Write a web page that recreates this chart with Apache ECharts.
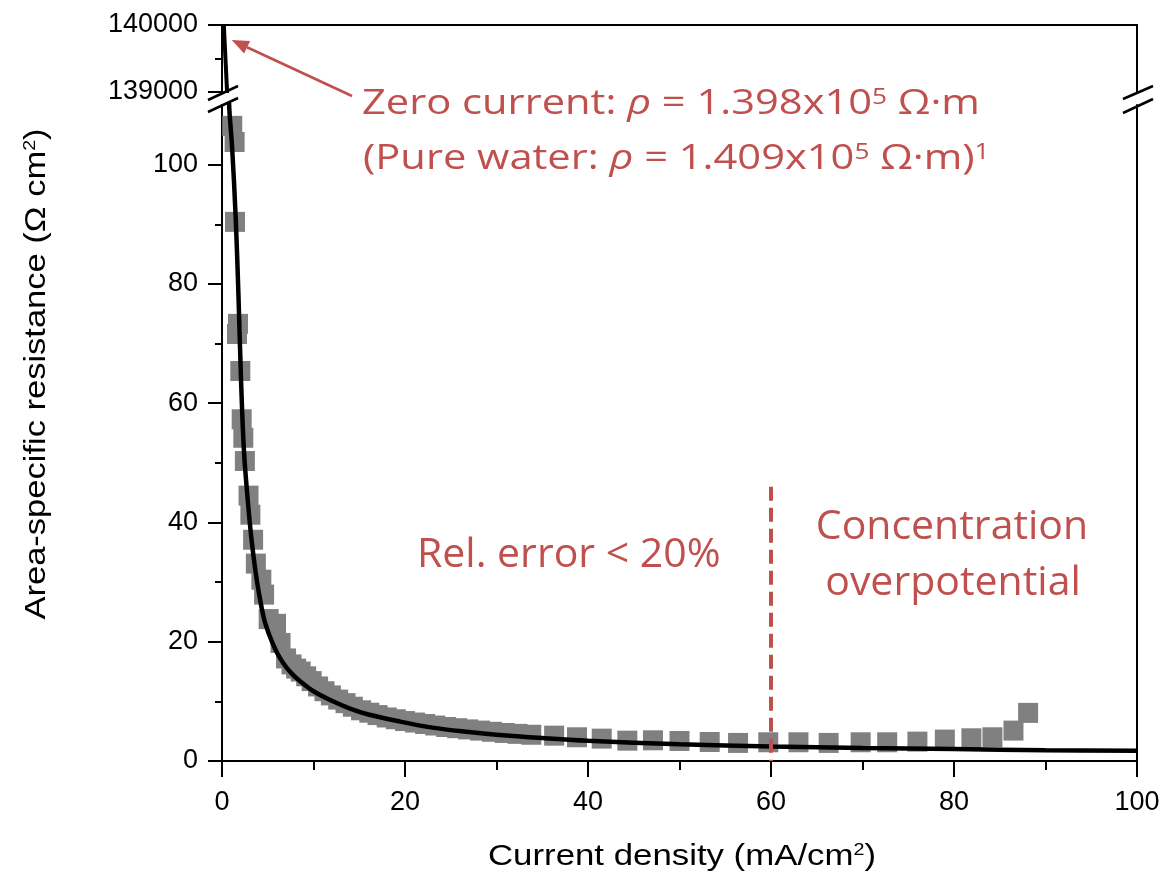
<!DOCTYPE html>
<html>
<head>
<meta charset="utf-8">
<title>Area-specific resistance</title>
<script src="https://cdn.jsdelivr.net/npm/echarts@6/dist/echarts.min.js"></script>
<style>
  html, body { margin: 0; padding: 0; background: #fff; }
  #chart { width: 1163px; height: 880px; }
</style>
</head>
<body>
<div id="chart"></div>
<script>
// measured squares (current density mA/cm2, ASR ohm cm2)
var sqX = [1.12, 1.38, 1.42, 1.64, 1.75, 2.0, 2.15, 2.33, 2.5, 2.9, 3.1, 3.4, 3.7, 4.3, 4.6, 5.1, 5.9, 6.4, 7.0,
  7.6, 8.1, 8.6, 9.2, 9.8, 10.5, 11.2, 11.9, 12.7, 13.5, 14.3, 15.2, 16.1, 17.0, 18.0, 19.0, 20.0, 21.1, 22.2, 23.3,
  24.5, 25.7, 26.9, 28.2, 29.5, 30.9, 32.3, 33.8,
  36.3, 38.8, 41.5, 44.3, 47.1, 50.0, 53.3, 56.4, 59.7, 63.0, 66.3, 69.8, 72.7, 76.0, 79.0, 81.9, 84.2, 86.5, 88.1];
var sqY = [106.5, 103.8, 90.4, 71.6, 73.3, 65.4, 57.3, 54.2, 50.3, 44.5, 41.3, 37.1, 33.1, 30.4, 27.9, 23.8, 23.0, 19.8, 17.2,
  16.2, 15.5, 15.0, 14.2, 13.4, 12.5, 11.7, 11.0, 10.3, 9.7, 9.1, 8.5, 8.1, 7.7, 7.3, 7.0, 6.7, 6.45, 6.2, 5.95,
  5.7, 5.5, 5.3, 5.1, 4.9, 4.7, 4.55, 4.4,
  4.25, 3.98, 3.75, 3.41, 3.47, 3.36, 3.19, 3.03, 3.14, 3.14, 3.03, 3.14, 3.14, 3.25, 3.59, 3.81, 3.98, 5.10, 8.07];

// fitted curve
var fitX = [0.7, 0.78, 1.1, 1.5, 1.8, 2.1, 2.4, 2.8, 3.2, 3.6, 4.0, 4.6, 5.2, 5.9, 6.7, 7.6, 8.6, 10, 12, 14, 16, 19.2, 23, 27, 30, 35, 40, 50, 60, 70, 80, 90, 100];
var fitY = [118, 110, 103, 91, 78, 63, 52, 44, 37.5, 32.5, 28.5, 23.8, 21.0, 18.5, 16.4, 14.7, 13.3, 11.7, 10.1, 8.8, 7.8, 6.7, 5.6, 4.85, 4.4, 3.85, 3.4, 2.8, 2.45, 2.2, 2.0, 1.82, 1.7];

// fit curve above the axis break
var topFitX = [0.2, 0.56];
var topFitY = [140000, 138980];

var yMajor = [0, 20, 40, 60, 80, 100];
var yMinor = [10, 30, 50, 70, 90];
var topMajor = [139000, 140000];
var topMinor = [139500];
var cutX = 60, cutTop = 46;

var RED = '#C0504D';
var AXF = 'Liberation Sans';
var TXF = 'Open Sans';

function pairs(xs, ys) {
  var out = [];
  for (var i = 0; i < xs.length; i++) out.push([xs[i], ys[i]]);
  return out;
}

var chart = echarts.init(document.getElementById('chart'));

var axisLine = { show: true, lineStyle: { color: '#000', width: 2 } };
var tickStyle = { color: '#000', width: 2 };
var labelStyle = { color: '#000', fontFamily: AXF, fontSize: 27, formatter: function (v) { return String(v); } };

var option = {
  animation: false,
  backgroundColor: '#fff',
  grid: [
    { left: 222, right: 26, top: 25, height: 68 },
    { left: 222, right: 26, top: 105, height: 656 }
  ],
  xAxis: [
    { gridIndex: 0, type: 'value', position: 'top', min: 0, max: 100,
      axisLine: axisLine, axisTick: { show: false }, axisLabel: { show: false }, splitLine: { show: false } },
    { gridIndex: 1, type: 'value', position: 'bottom', min: 0, max: 100, interval: 20,
      axisLine: axisLine,
      axisTick: { show: true, length: 16, lineStyle: tickStyle },
      minorTick: { show: true, splitNumber: 2, length: 9, lineStyle: tickStyle },
      axisLabel: Object.assign({ margin: 28 }, labelStyle),
      splitLine: { show: false } }
  ],
  yAxis: [
    { gridIndex: 0, type: 'value', position: 'left', min: 138980, max: 140000,
      axisLine: axisLine,
      axisTick: { show: true, length: 14, customValues: topMajor, lineStyle: tickStyle },
      axisLabel: Object.assign({ margin: 24, customValues: topMajor }, labelStyle),
      splitLine: { show: false } },
    { gridIndex: 0, type: 'value', position: 'left', min: 138980, max: 140000,
      axisLine: { show: false },
      axisTick: { show: true, length: 7, customValues: topMinor, lineStyle: tickStyle },
      axisLabel: { show: false }, splitLine: { show: false } },
    { gridIndex: 0, type: 'value', position: 'right', min: 138980, max: 140000,
      axisLine: axisLine, axisTick: { show: false }, axisLabel: { show: false }, splitLine: { show: false } },
    { gridIndex: 1, type: 'value', position: 'left', min: 0, max: 110,
      axisLine: axisLine,
      axisTick: { show: true, length: 14, customValues: yMajor, lineStyle: tickStyle },
      axisLabel: Object.assign({ margin: 24, customValues: yMajor }, labelStyle),
      splitLine: { show: false } },
    { gridIndex: 1, type: 'value', position: 'left', min: 0, max: 110,
      axisLine: { show: false },
      axisTick: { show: true, length: 7, customValues: yMinor, lineStyle: tickStyle },
      axisLabel: { show: false }, splitLine: { show: false } },
    { gridIndex: 1, type: 'value', position: 'right', min: 0, max: 110,
      axisLine: axisLine, axisTick: { show: false }, axisLabel: { show: false }, splitLine: { show: false } }
  ],
  series: [
    {
      type: 'scatter', xAxisIndex: 1, yAxisIndex: 3, z: 2,
      symbol: 'rect', symbolSize: 20,
      itemStyle: { color: 'rgb(128,128,128)', opacity: 1 },
      data: pairs(sqX, sqY)
    },
    {
      type: 'line', xAxisIndex: 1, yAxisIndex: 3, z: 3,
      smooth: 0.35, showSymbol: false, symbol: 'none',
      lineStyle: { color: '#000', width: 4.5 },
      data: pairs(fitX, fitY),
      markLine: {
        silent: true, symbol: ['none', 'none'], z: 5,
        label: { show: false },
        lineStyle: { color: RED, width: 4, type: [14, 7] },
        data: [[{ coord: [cutX, cutTop] }, { coord: [cutX, 0] }]]
      }
    },
    {
      type: 'line', xAxisIndex: 0, yAxisIndex: 0, z: 3,
      showSymbol: false, symbol: 'none',
      lineStyle: { color: '#000', width: 4 },
      data: pairs(topFitX, topFitY)
    }
  ],
  graphic: [
    // axis break marks
    { type: 'line', shape: { x1: 208, y1: 100, x2: 238, y2: 86 }, style: { stroke: '#000', lineWidth: 2.5 } },
    { type: 'line', shape: { x1: 208, y1: 112, x2: 238, y2: 98 }, style: { stroke: '#000', lineWidth: 2.5 } },
    { type: 'line', shape: { x1: 1123, y1: 99, x2: 1153, y2: 86 }, style: { stroke: '#000', lineWidth: 2.5 } },
    { type: 'line', shape: { x1: 1123, y1: 113, x2: 1153, y2: 99 }, style: { stroke: '#000', lineWidth: 2.5 } },
    // arrow
    { type: 'line', shape: { x1: 352, y1: 96, x2: 247, y2: 47.3 }, style: { stroke: RED, lineWidth: 2.6 } },
    { type: 'polygon', shape: { points: [[231.7, 40], [250.1, 41.0], [244.1, 53.6]] }, style: { fill: RED } },
    // annotations
    { type: 'text', x: 362, y: 104, scaleX: 1.19, style: {
        text: '{a|Zero current: }{i|ρ}{a| = 1.398x10}{s|5}{a| Ω·m}',
        verticalAlign: 'middle', align: 'left',
        rich: {
          a: { fontFamily: TXF, fontSize: 35, fill: RED },
          i: { fontFamily: TXF, fontSize: 35, fill: RED, fontStyle: 'italic' },
          s: { fontFamily: TXF, fontSize: 22, fill: RED, verticalAlign: 'top' }
        } } },
    { type: 'text', x: 363, y: 159, scaleX: 1.19, style: {
        text: '{a|(Pure water: }{i|ρ}{a| = 1.409x10}{s|5}{a| Ω·m)}{s|1}',
        verticalAlign: 'middle', align: 'left',
        rich: {
          a: { fontFamily: TXF, fontSize: 35, fill: RED },
          i: { fontFamily: TXF, fontSize: 35, fill: RED, fontStyle: 'italic' },
          s: { fontFamily: TXF, fontSize: 22, fill: RED, verticalAlign: 'top' }
        } } },
    { type: 'text', x: 417, y: 555, style: {
        text: 'Rel. error < 20%', font: '41px "Open Sans"', fill: RED, align: 'left', verticalAlign: 'middle' } },
    { type: 'text', x: 952, y: 527, style: {
        text: 'Concentration', font: '41px "Open Sans"', fill: RED, align: 'center', verticalAlign: 'middle' } },
    { type: 'text', x: 953, y: 583, style: {
        text: 'overpotential', font: '41px "Open Sans"', fill: RED, align: 'center', verticalAlign: 'middle' } },
    // axis titles
    { type: 'text', x: 682, y: 857, scaleX: 1.16, style: {
        text: '{a|Current density (mA/cm}{s|2}{a|)}',
        align: 'center', verticalAlign: 'middle',
        rich: {
          a: { fontFamily: AXF, fontSize: 30, fill: '#000' },
          s: { fontFamily: AXF, fontSize: 17, fill: '#000', verticalAlign: 'top' }
        } } },
    { type: 'text', x: 37, y: 374, rotation: Math.PI / 2, scaleX: 1.15, style: {
        text: '{a|Area-specific resistance (Ω cm}{s|2}{a|)}',
        align: 'center', verticalAlign: 'middle',
        rich: {
          a: { fontFamily: AXF, fontSize: 30, fill: '#000' },
          s: { fontFamily: AXF, fontSize: 17, fill: '#000', verticalAlign: 'top' }
        } } }
  ]
};

chart.setOption(option);
</script>
</body>
</html>
